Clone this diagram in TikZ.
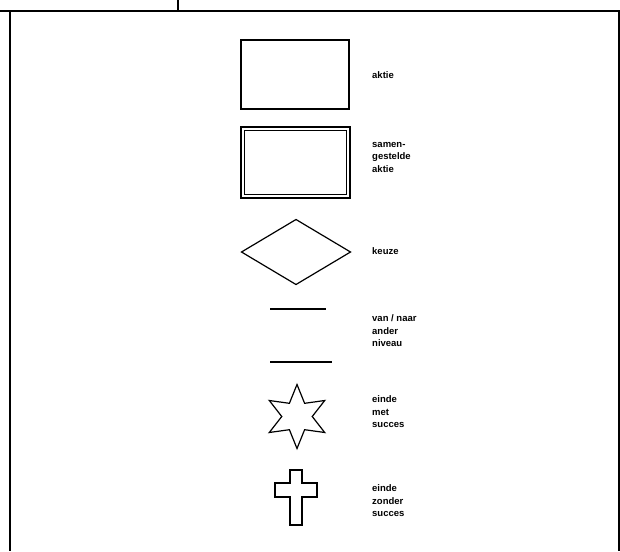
\documentclass[tikz,border=0pt]{standalone}
\usepackage{fontspec}
\setmainfont{Liberation Sans}
\usepackage{tikz}
\usetikzlibrary{shapes.geometric}

\begin{document}
\begin{tikzpicture}[x=1pt,y=-1pt]
    % Styles for symbols and labels
    \tikzset{
      symbol/.style={draw=black, line width=1.2pt, inner sep=0pt, outer sep=0pt},
      label/.style={anchor=west, align=left, inner sep=0pt, font=\fontsize{9.5}{12.5}\selectfont\bfseries},
      frame/.style={line width=2pt}
    }
    \useasboundingbox (0,0) rectangle (620,551);

    % Frame
    \draw[frame] (0,11) -- (620,11);
    \draw[frame] (10,11) -- (10,551);
    \draw[frame] (619,11) -- (619,551);
    \draw[frame] (178,0) -- (178,11);

    % Symbols with explicit coordinates
    \node[symbol, rectangle, minimum width=108pt, minimum height=69pt] (aktie) at (295,74.5) {};
    \node[symbol, rectangle, line width=1.6pt, minimum width=109pt, minimum height=71pt] (samen) at (295.5,162.5) {};
    \node[symbol, rectangle, line width=0.9pt, minimum width=102pt, minimum height=64pt] (samenin) at (samen) {};
    \node[symbol, diamond, minimum width=109pt, minimum height=65pt] (keuze) at (296,252) {};
    \coordinate (boven) at (298,309);
    \coordinate (onder) at (301,362);
    \draw[line width=1.2pt] ([xshift=-28pt]boven) -- ([xshift=28pt]boven);
    \draw[line width=1.2pt] ([xshift=-31pt]onder) -- ([xshift=31pt]onder);
    \node[symbol, star, star points=6, star point ratio=2.1, minimum size=64pt] (succes) at (297,416.5) {};
    \draw[line width=1.2pt] (290,470) -- (302,470) -- (302,483) -- (317,483) -- (317,497) -- (302,497)
      -- (302,525) -- (290,525) -- (290,497) -- (275,497) -- (275,483) -- (290,483) -- cycle;
    \coordinate (kruis) at (296,497);

    % Labels
    \node[label] (laktie) at (372,75) {aktie};
    \node[label] (lsamen) at (372,157) {samen-\\gestelde\\aktie};
    \node[label] (lkeuze) at (372,251) {keuze};
    \node[label] (lniveau) at (372,331) {van / naar\\ander\\niveau};
    \node[label] (lsucces) at (372,412) {einde\\met\\succes};
    \node[label] (lzonder) at (372,501) {einde\\zonder\\succes};

\end{tikzpicture}
\end{document}
